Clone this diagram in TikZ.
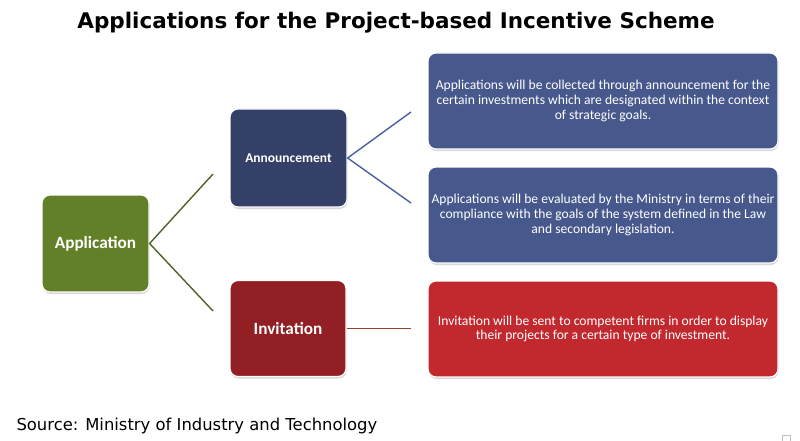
\documentclass[tikz,border=0pt]{standalone}
\usepackage{fontspec}
\setmainfont{Carlito}
\newfontfamily\titlefont{DejaVu Sans}
\usetikzlibrary{shadows}
\definecolor{appgreen}{RGB}{98,128,39}
\definecolor{anndark}{RGB}{53,64,104}
\definecolor{infoblue}{RGB}{70,88,140}
\definecolor{invdark}{RGB}{146,31,35}
\definecolor{invred}{RGB}{193,41,46}
\definecolor{lgreen}{RGB}{79,98,40}
\definecolor{lblue}{RGB}{72,98,158}
\definecolor{lbrown}{RGB}{150,70,40}
\tikzset{
  box/.style={draw=white, line width=1.2pt, rounded corners=8pt, text=white, align=center,
    inner sep=2pt, drop shadow={shadow xshift=0.6pt, shadow yshift=-2pt, opacity=0.25, fill=black!60}},
  label/.style={font=\bfseries\fontsize{17.2}{20}\selectfont},
  small/.style={font=\bfseries\fontsize{13.5}{16}\selectfont},
  para/.style={font=\fontsize{13.6}{14.8}\selectfont},
  conn/.style={line width=1.4pt}
}
\begin{document}
\begin{tikzpicture}[x=1pt,y=-1pt]
\useasboundingbox[fill=white] (0,0) rectangle (800,441);
\node[font=\titlefont\bfseries\fontsize{21.5}{24}\selectfont] (title) at (396,23) {Applications for the Project-based Incentive Scheme};
\node[box, fill=appgreen, minimum width=107pt, minimum height=97pt, label] (app) at (95.5,243.5) {Application};
\node[box, fill=anndark, minimum width=117pt, minimum height=98pt, small] (ann) at (288.5,158) {Announcement};
\node[box, fill=invdark, minimum width=116pt, minimum height=96pt, label] (inv) at (288,328.5) {Invitation};
\node[box, fill=infoblue, minimum width=350pt, minimum height=96pt, para] (b1) at (603,101) {Applications will be collected through announcement for the\\certain investments which are designated within the context\\of strategic goals.};
\node[box, fill=infoblue, minimum width=350pt, minimum height=96pt, para] (b2) at (603,215) {Applications will be evaluated by the Ministry in terms of their\\compliance with the goals of the system defined in the Law\\and secondary legislation.};
\node[box, fill=invred, minimum width=350pt, minimum height=96pt, para] (b3) at (603,329) {Invitation will be sent to competent firms in order to display\\their projects for a certain type of investment.};
\coordinate (a1) at (213,174);
\coordinate (a2) at (213,311);
\coordinate (n1) at (411,112);
\coordinate (n2) at (411,203);
\coordinate (i1) at (411,328.5);
\draw[conn, lgreen] (a1) -- (app.east) -- (a2);
\draw[conn, lblue] (n1) -- (ann.east) -- (n2);
\draw[conn, lbrown] (inv.east) -- (i1);
\node[anchor=west, font=\titlefont\fontsize{16.4}{18}\selectfont] (src) at (13,426) {Source: Ministry of Industry and Technology};
\draw[black!25, line width=0.8pt] (782,441) -- (782,435) -- (790,435) -- (790,441);
\end{tikzpicture}
\end{document}
